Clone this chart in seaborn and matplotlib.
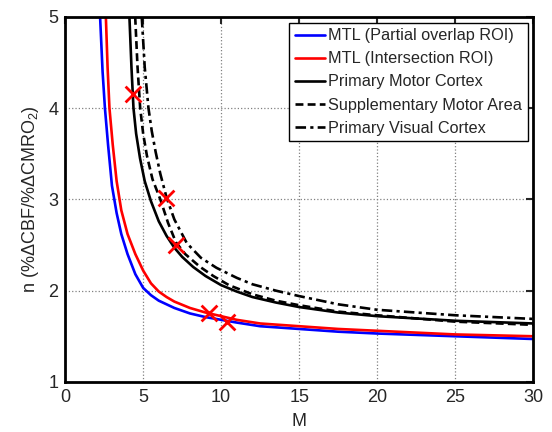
import matplotlib
matplotlib.use("Agg")
import matplotlib.pyplot as plt
import seaborn as sns
import pandas as pd

# ---- data ----
blue_M = [2.24, 2.40, 2.55, 2.75, 3.0, 3.3, 3.6, 4.0, 4.5, 5.0, 5.5, 6.0, 7.0, 8.0, 9.0, 10, 11, 12.5, 15, 17.5, 20, 25, 30]
blue_n = [5.0, 4.40, 4.0, 3.60, 3.15, 2.85, 2.62, 2.40, 2.18, 2.03, 1.95, 1.89, 1.81, 1.75, 1.71, 1.68, 1.65, 1.61, 1.58, 1.55, 1.53, 1.50, 1.47]

red_M = [2.61, 2.72, 2.84, 3.05, 3.3, 3.6, 4.0, 4.5, 5.0, 5.5, 6.0, 6.5, 7.0, 8.0, 9.0, 10, 11, 12.5, 15, 17.5, 20, 25, 30]
red_n = [5.0, 4.45, 4.0, 3.60, 3.20, 2.88, 2.62, 2.40, 2.22, 2.08, 1.99, 1.93, 1.88, 1.81, 1.76, 1.72, 1.68, 1.64, 1.61, 1.58, 1.56, 1.52, 1.50]

pmc_M = [4.12, 4.25, 4.38, 4.55, 4.8, 5.1, 5.5, 6.0, 6.5, 7.0, 7.5, 8.2, 9.0, 10, 11, 12, 13.5, 15, 17.5, 20, 25, 30]
pmc_n = [5.0, 4.45, 4.0, 3.72, 3.45, 3.20, 2.98, 2.76, 2.60, 2.47, 2.37, 2.26, 2.16, 2.06, 1.99, 1.93, 1.87, 1.82, 1.76, 1.72, 1.67, 1.64]

sma_M = [4.49, 4.64, 4.81, 5.0, 5.24, 5.6, 6.1, 6.6, 7.1, 7.7, 8.65, 9.5, 10.5, 12, 13.5, 15, 17.5, 20, 25, 30]
sma_n = [5.0, 4.45, 4.0, 3.72, 3.48, 3.22, 3.0, 2.74, 2.53, 2.40, 2.26, 2.16, 2.06, 1.96, 1.89, 1.84, 1.77, 1.73, 1.66, 1.625]

pvc_M = [4.91, 5.10, 5.34, 5.55, 5.8, 6.1, 6.5, 7.0, 7.8, 8.7, 9.7, 11, 12, 13.5, 15, 17.5, 20, 25, 30]
pvc_n = [5.0, 4.45, 4.0, 3.75, 3.52, 3.28, 3.02, 2.78, 2.52, 2.36, 2.25, 2.14, 2.07, 2.00, 1.94, 1.85, 1.79, 1.73, 1.69]

cross_M = [4.34, 6.47, 7.10, 9.20, 10.4]
cross_n = [4.15, 3.02, 2.50, 1.76, 1.66]

labels = ["MTL (Partial overlap ROI)", "MTL (Intersection ROI)", "Primary Motor Cortex",
          "Supplementary Motor Area", "Primary Visual Cortex"]
x_ticks = [0, 5, 10, 15, 20, 25, 30]
y_ticks = [1, 2, 3, 4, 5]

# ---- style ----
sns.set_style("white")
plt.rcParams["font.family"] = ["Liberation Sans", "DejaVu Sans"]
plt.rcParams["mathtext.default"] = "regular"

fig = plt.figure(figsize=(5.52, 4.32), dpi=100)
ax = fig.add_axes([0.118, 0.116, 0.848, 0.845])

series = [
    (blue_M, blue_n, "#0000ff", "-"),
    (red_M, red_n, "#ff0000", "-"),
    (pmc_M, pmc_n, "black", "-"),
    (sma_M, sma_n, "black", (0, (3.0, 1.6))),
    (pvc_M, pvc_n, "black", (0, (4.0, 1.6, 1.2, 1.6))),
]
for (m, n, c, ls), lab in zip(series, labels):
    df = pd.DataFrame({"M": m, "n": n})
    sns.lineplot(data=df, x="M", y="n", ax=ax, color=c, linestyle=ls,
                 linewidth=1.9, label=lab, estimator=None, sort=False)

cdf = pd.DataFrame({"M": cross_M, "n": cross_n})
sns.scatterplot(data=cdf, x="M", y="n", ax=ax, marker="x", color="#ff0000",
                s=130, linewidth=2.0, zorder=5, legend=False)

ax.set_xlim(0, 30)
ax.set_ylim(1, 5)
ax.set_xticks(x_ticks)
ax.set_yticks(y_ticks)
ax.tick_params(direction="in", length=5, width=1.5, labelsize=13,
               top=True, right=True, pad=5)
for sp in ax.spines.values():
    sp.set_linewidth(2.0)
    sp.set_color("black")
ax.grid(True, linestyle=":", color="0.5", linewidth=0.9)
ax.set_axisbelow(True)

ax.set_xlabel("M", fontsize=13, labelpad=5)
ax.set_ylabel("n (%ΔCBF/%ΔCMRO$_2$)", fontsize=13, labelpad=5)

leg = ax.legend(loc="upper right", fontsize=11.7, frameon=True, fancybox=False,
                edgecolor="black", framealpha=1, borderpad=0.35, labelspacing=0.5,
                handlelength=1.85, handletextpad=0.2, borderaxespad=0.35)
leg.get_frame().set_linewidth(1.0)

fig.savefig("out.png", dpi=100)
